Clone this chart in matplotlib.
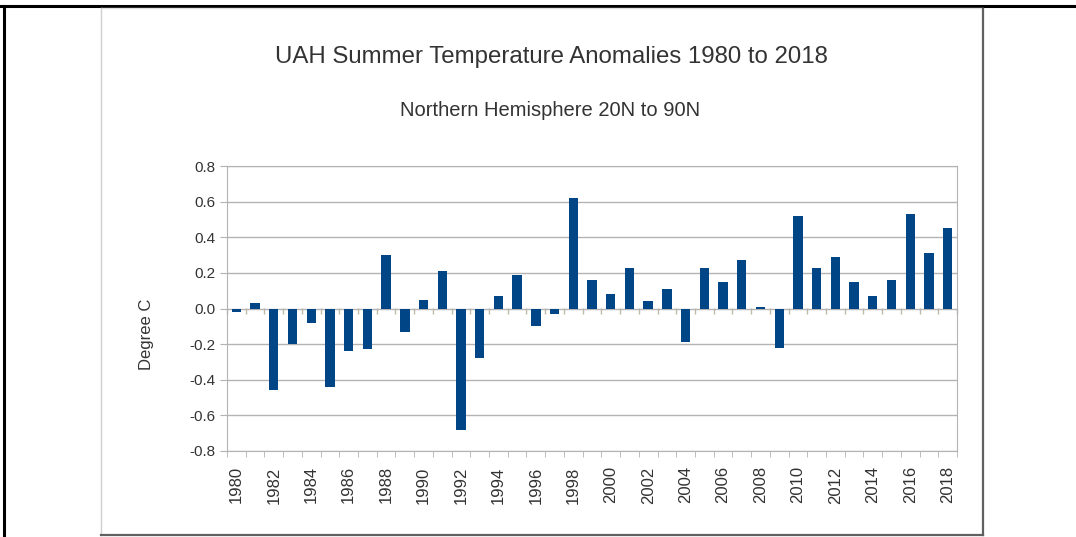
import numpy as np
import matplotlib
matplotlib.use("Agg")
import matplotlib.pyplot as plt
from matplotlib.lines import Line2D
from matplotlib.ticker import FixedLocator, MultipleLocator

plt.rcParams['font.family'] = ['Liberation Sans', 'DejaVu Sans']

years = list(range(1980, 2019))
anomalies = [-0.02, 0.03, -0.46, -0.20, -0.08, -0.44, -0.24, -0.23, 0.30, -0.13,
             0.05, 0.21, -0.68, -0.28, 0.07, 0.19, -0.10, -0.03, 0.62, 0.16,
             0.08, 0.23, 0.04, 0.11, -0.19, 0.23, 0.15, 0.27, 0.01, -0.22,
             0.52, 0.23, 0.29, 0.15, 0.07, 0.16, 0.53, 0.31, 0.45]
title = "UAH Summer Temperature Anomalies 1980 to 2018"
subtitle = "Northern Hemisphere 20N to 90N"
ylabel = "Degree C"

W, H = 1076, 537
fig = plt.figure(figsize=(W / 100, H / 100), dpi=100)


def fx(px):
    return px / W


def fy(py):
    return 1 - py / H


# outer black frame (top and left only)
fig.add_artist(Line2D([0, 1], [fy(6), fy(6)], color='black', lw=2.2, transform=fig.transFigure))
fig.add_artist(Line2D([fx(4), fx(4)], [0, fy(6)], color='black', lw=2.2, transform=fig.transFigure))

# chart box with shadowed right/bottom edges
fig.add_artist(Line2D([fx(101), fx(983)], [fy(8), fy(8)], color='#e0e0e0', lw=1, transform=fig.transFigure))
fig.add_artist(Line2D([fx(101), fx(101)], [fy(8), fy(535)], color='#d0d0d0', lw=1, transform=fig.transFigure))
fig.add_artist(Line2D([fx(983), fx(983)], [fy(9), fy(535)], color='#606060', lw=1.6, transform=fig.transFigure))
fig.add_artist(Line2D([fx(101), fx(983)], [fy(535), fy(535)], color='#606060', lw=1.6, transform=fig.transFigure))

ax = fig.add_axes([fx(227), fy(451), fx(957) - fx(227), fy(166) - fy(451)])
x = np.arange(len(years))
ax.bar(x, anomalies, width=0.5, color='#004586', zorder=3)

ax.set_xlim(-0.5, len(years) - 0.5)
ax.set_ylim(-0.8, 0.8)
ax.yaxis.set_major_locator(MultipleLocator(0.2))
ax.set_yticklabels([f"{v:.1f}" for v in ax.get_yticks()])
ax.grid(axis='y', color='#b3b3b3', lw=1, zorder=0)
ax.tick_params(axis='y', length=5, color='#b3b3b3', labelsize=11, labelcolor='#333333', pad=3)

ax.set_xticks(x[::2])
ax.set_xticklabels([str(y) for y in years[::2]], rotation=90)
ax.xaxis.set_minor_locator(FixedLocator(np.arange(-0.5, len(years), 1)))
ax.tick_params(axis='x', which='major', length=0, labelsize=12, labelcolor='#333333', pad=11)
ax.tick_params(axis='x', which='minor', length=4, color='#b3b3b3')
for s in ax.spines.values():
    s.set_color('#b3b3b3')

# category ticks hanging below the zero line
sec = ax.secondary_xaxis(0.5)
sec.set_xticks(np.arange(-0.5, len(years), 1))
sec.set_xticklabels([])
sec.tick_params(length=4, color='#c0b9a8', width=1, direction='in')
for s in sec.spines.values():
    s.set_visible(False)

fig.text(fx(551), fy(57), title, ha='center', va='center', fontsize=17.3, color='#333333')
fig.text(fx(550), fy(110), subtitle, ha='center', va='center', fontsize=14.5, color='#333333')
fig.text(fx(146), fy(334), ylabel, ha='center', va='center', rotation=90, fontsize=12, color='#333333')

fig.savefig("out.png", dpi=100)
